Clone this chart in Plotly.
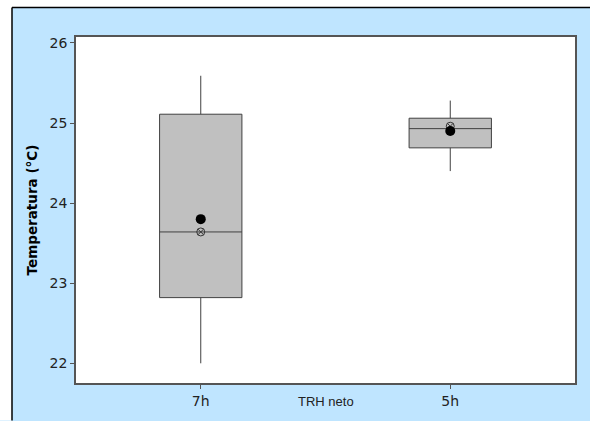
import plotly.graph_objects as go

categories = ["7h", "5h"]
q1 = [22.82, 24.69]
median = [23.64, 24.93]
q3 = [25.11, 25.06]
lower_whisker = [22.00, 24.40]
upper_whisker = [25.59, 25.28]
mean_values = [23.80, 24.90]
open_marker_values = [23.64, 24.96]
y_ticks = [22, 23, 24, 25, 26]

fig = go.Figure()
fig.add_trace(go.Box(
    x=categories, q1=q1, median=median, q3=q3,
    lowerfence=lower_whisker, upperfence=upper_whisker,
    boxpoints=False, whiskerwidth=0, width=0.33,
    fillcolor="#c0c0c0", line=dict(color="#404040", width=1),
    showlegend=False, hoverinfo="skip",
))
fig.add_trace(go.Scatter(
    x=categories, y=open_marker_values, mode="markers",
    marker=dict(symbol="circle-x-open", size=8, color="#333333", line=dict(width=1)),
    showlegend=False,
))
fig.add_trace(go.Scatter(
    x=categories, y=mean_values, mode="markers",
    marker=dict(symbol="circle", size=10, color="black"),
    showlegend=False,
))

L, R, T, B = 76, 15, 37, 33
W, H = 590, 421
pw, ph = W - L - R, H - T - B

def px_x(px):
    return (px - L) / pw

def px_y(py):
    return (H - B - py) / ph

# white margin strips (top and left) outside the blue panel
fig.add_shape(type="rect", xref="paper", yref="paper",
              x0=px_x(-5), x1=px_x(12), y0=px_y(H + 5), y1=px_y(-5),
              fillcolor="white", line=dict(width=0))
fig.add_shape(type="rect", xref="paper", yref="paper",
              x0=px_x(-5), x1=px_x(W + 5), y0=px_y(7), y1=px_y(-5),
              fillcolor="white", line=dict(width=0))
fig.add_shape(type="line", xref="paper", yref="paper",
              x0=px_x(12), x1=px_x(12), y0=px_y(H + 5), y1=px_y(7),
              line=dict(color="black", width=1.5))
fig.add_shape(type="line", xref="paper", yref="paper",
              x0=px_x(12), x1=px_x(W + 5), y0=px_y(7), y1=px_y(7),
              line=dict(color="black", width=1.5))

fig.add_annotation(text="TRH neto", xref="paper", yref="paper",
                   x=0.5, y=px_y(407), yanchor="middle", xanchor="center",
                   showarrow=False, font=dict(family="Liberation Sans", size=13, color="#222222"))

fig.update_layout(
    width=W, height=H,
    margin=dict(l=L, r=R, t=T, b=B),
    paper_bgcolor="#bfe5ff", plot_bgcolor="white",
    font=dict(family="DejaVu Sans", size=14, color="#222222"),
    xaxis=dict(
        type="category", range=[-0.5, 1.5], showgrid=False, zeroline=False,
        showline=True, mirror=True, linecolor="#555555", linewidth=1.5,
        ticks="outside", ticklen=4, tickcolor="#555555",
        tickfont=dict(family="DejaVu Sans", size=14, color="#222222"),
    ),
    yaxis=dict(
        range=[21.754, 26.074], tickvals=y_ticks, showgrid=False, zeroline=False,
        showline=True, mirror=True, linecolor="#555555", linewidth=1.5,
        ticks="outside", ticklen=4, tickcolor="#555555",
        tickfont=dict(family="DejaVu Sans", size=14, color="#222222"),
        title=dict(text="<b>Temperatura (°C)</b>", standoff=9,
                   font=dict(family="DejaVu Sans", size=13.5, color="black")),
    ),
)

fig.write_html("out.html")
